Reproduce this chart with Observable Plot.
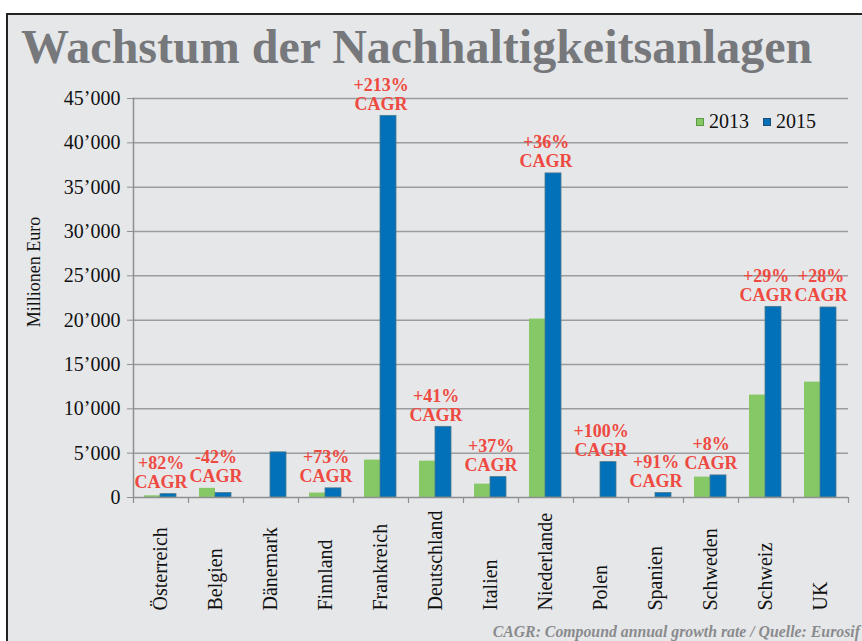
<!DOCTYPE html>
<html>
<head>
<meta charset="utf-8">
<script src="https://cdn.jsdelivr.net/npm/d3@7"></script>
<script src="https://cdn.jsdelivr.net/npm/@observablehq/plot@0.6"></script>
<style>
html, body { margin: 0; padding: 0; background: #fff; }
#wrap { position: relative; width: 862px; height: 641px; overflow: hidden; background: #fff; font-family: "Liberation Serif", "Times New Roman", serif; }
#panel { position: absolute; left: 6px; top: 13px; width: 900px; height: 700px; background: #E6E7E9; border-left: 2px solid #222; border-top: 2px solid #222; }
#title { position: absolute; left: 21px; top: 19px; font-size: 48px; font-weight: bold; color: #76787B; white-space: nowrap; line-height: normal; }
#chart { position: absolute; left: 0; top: 0; }
#ylabel { position: absolute; left: 34px; top: 272px; transform: translate(-50%, -50%) rotate(-90deg); font-size: 18px; color: #111; white-space: nowrap; }
#legend { position: absolute; left: 696px; top: 110px; font-size: 20px; color: #111; white-space: nowrap; display: flex; align-items: center; }
#legend .sw { display: inline-block; width: 6px; height: 6px; margin-right: 5px; }
#legend .item { display: flex; align-items: center; margin-right: 14px; }
#caption { position: absolute; right: 2px; top: 623px; font-size: 15.8px; font-weight: bold; font-style: italic; color: #8A8B8D; white-space: nowrap; }
</style>
</head>
<body>
<div id="wrap">
  <div id="panel"></div>
  <div id="title"></div>
  <div id="chart"></div>
  <div id="ylabel"></div>
  <div id="legend"></div>
  <div id="caption"></div>
</div>
<script>
const titleText = "Wachstum der Nachhaltigkeitsanlagen";
const yLabelText = "Millionen Euro";
const captionText = "CAGR: Compound annual growth rate / Quelle: Eurosif";
const countries = ["Österreich","Belgien","Dänemark","Finnland","Frankreich","Deutschland","Italien","Niederlande","Polen","Spanien","Schweden","Schweiz","UK"];
const series = ["2013","2015"];
const values2013 = [190, 1030, 0, 500, 4220, 4100, 1510, 20120, 0, 0, 2300, 11550, 13010];
const values2015 = [380, 500, 5090, 1030, 43040, 7970, 2300, 36550, 3990, 500, 2490, 21500, 21430];
const cagr = ["+82%","-42%","","+73%","+213%","+41%","+37%","+36%","+100%","+91%","+8%","+29%","+28%"];
const yTicks = [0,5000,10000,15000,20000,25000,30000,35000,40000,45000];

const colors = {"2013": "#86C866", "2015": "#0271B9"};

document.getElementById("title").textContent = titleText;
document.getElementById("ylabel").textContent = yLabelText;
document.getElementById("caption").textContent = captionText;
const legend = document.getElementById("legend");
series.forEach(s => {
  const it = document.createElement("span");
  it.className = "item";
  const sw = document.createElement("span");
  sw.className = "sw";
  sw.style.background = colors[s];
  sw.style.border = "1px solid " + (s === "2013" ? "#5E9A45" : "#1F4F78");
  it.appendChild(sw);
  it.appendChild(document.createTextNode(s));
  legend.appendChild(it);
});

const rows2013 = countries.map((c, i) => ({country: c, year: "2013", value: values2013[i]}));
const rows2015 = countries.map((c, i) => ({country: c, year: "2015", value: values2015[i]}));
const labels = countries
  .map((c, i) => ({country: c, top: Math.max(values2013[i], values2015[i]), text: cagr[i] ? cagr[i] + "\nCAGR" : ""}))
  .filter(d => d.text);

const fmt = d => d3.format(",")(d).replace(/,/g, "\u2019");

const chart = Plot.plot({
  width: 862,
  height: 641,
  marginLeft: 133,
  marginRight: 14,
  marginTop: 98,
  marginBottom: 144,
  style: {background: "transparent", fontFamily: "'Liberation Serif', 'Times New Roman', serif", color: "#111"},
  x: {domain: countries, padding: 0, axis: null},
  y: {domain: [0, 45000], axis: null},
  marks: [
    Plot.gridY(yTicks.slice(1), {stroke: "#9B9C9E", strokeOpacity: 1, strokeWidth: 1.5}),
    Plot.barY(rows2013, {x: "country", y: "value", fill: colors["2013"], insetLeft: 11, insetRight: 28}),
    Plot.barY(rows2015, {x: "country", y: "value", fill: colors["2015"], stroke: "#4C7A8C", strokeWidth: 0.8, insetLeft: 27, insetRight: 12}),
    Plot.ruleY([0], {stroke: "#8E8F91", strokeWidth: 1.5}),
    Plot.frame({anchor: "left", stroke: "#8E8F91", strokeWidth: 1.5}),
    Plot.ruleX(countries, {x: d => d, dx: -27.5, y1: 0, y2: 0, insetTop: 0, insetBottom: -6, stroke: "#8E8F91", strokeWidth: 1.2}),
    Plot.ruleX(countries.slice(-1), {x: d => d, dx: 27.5, y1: 0, y2: 0, insetTop: 0, insetBottom: -6, stroke: "#8E8F91", strokeWidth: 1.2}),
    Plot.axisY({ticks: yTicks, tickFormat: fmt, tickSize: 6, tickPadding: 7, fontSize: 20, stroke: "#8E8F91", fill: "#111", label: null}),
    Plot.text(countries, {x: d => d, frameAnchor: "bottom", dy: 113, rotate: -90, textAnchor: "start", lineAnchor: "middle", fontSize: 20, fill: "#111"}),
    Plot.text(labels, {x: "country", y: "top", text: "text", lineAnchor: "bottom", dy: -6, fill: "#EE4A41", fontWeight: "bold", fontSize: 18, lineHeight: 1.07})
  ]
});
document.getElementById("chart").appendChild(chart);
</script>
</body>
</html>
